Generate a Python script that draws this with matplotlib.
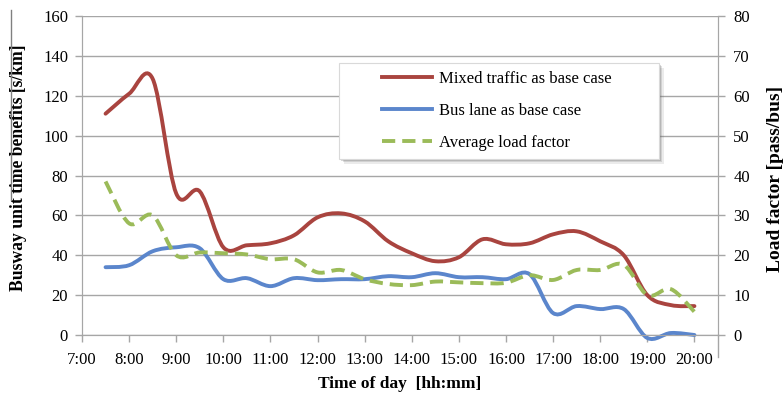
import matplotlib
matplotlib.use("Agg")
import matplotlib.pyplot as plt
from matplotlib.path import Path
from matplotlib.patches import PathPatch, Rectangle
from matplotlib.lines import Line2D

plt.rcParams['font.family'] = ['Liberation Serif', 'DejaVu Serif']

# Dane (co pół godziny)
times = ["7:30", "8:00", "8:30", "9:00", "9:30", "10:00", "10:30", "11:00",
         "11:30", "12:00", "12:30", "13:00", "13:30", "14:00", "14:30", "15:00",
         "15:30", "16:00", "16:30", "17:00", "17:30", "18:00", "18:30", "19:00",
         "19:30", "20:00"]
mixed_traffic = [111, 121, 128.5, 71, 72, 44, 45, 46, 50, 59, 61, 57, 47, 41,
                 37, 39, 48, 45.5, 46, 50.5, 52, 47, 40, 20, 15, 14.5]
bus_lane = [34, 35, 42, 44, 43.5, 28, 28.5, 24.5, 28.5, 27.5, 28, 28, 29.5, 29,
            31, 29, 29, 28, 30.5, 11, 14.5, 13, 13, -1.5, 1, 0]
load_factor = [38.5, 28, 30, 20, 20.7, 20.5, 20.2, 19, 19, 15.7, 16.3, 14,
               12.8, 12.5, 13.4, 13.2, 13, 13.1, 15, 13.8, 16.3, 16.3, 17.6,
               10, 11.5, 5.8]
hour_labels = ["7:00", "8:00", "9:00", "10:00", "11:00", "12:00", "13:00",
               "14:00", "15:00", "16:00", "17:00", "18:00", "19:00", "20:00"]

x = [int(t.split(":")[0]) + int(t.split(":")[1]) / 60 for t in times]
hour_ticks = [int(t.split(":")[0]) for t in hour_labels]


def smooth_path(xs, ys, k=1 / 6):
    # wygładzona linia jak w Excelu (Catmull-Rom -> Bezier)
    verts = [(xs[0], ys[0])]
    codes = [Path.MOVETO]
    n = len(xs)
    for i in range(n - 1):
        p0 = (xs[max(i - 1, 0)], ys[max(i - 1, 0)])
        p1 = (xs[i], ys[i])
        p2 = (xs[i + 1], ys[i + 1])
        p3 = (xs[min(i + 2, n - 1)], ys[min(i + 2, n - 1)])
        c1 = (p1[0] + (p2[0] - p0[0]) * k, p1[1] + (p2[1] - p0[1]) * k)
        c2 = (p2[0] - (p3[0] - p1[0]) * k, p2[1] - (p3[1] - p1[1]) * k)
        verts += [c1, c2, p2]
        codes += [Path.CURVE4] * 3
    return Path(verts, codes)


grid_color = '#a6a6a6'
red = '#a9443f'
blue = '#5b86cc'
green = '#9bbb59'
lw = 2.8
dash = (0, (3.4, 1.8))

fig = plt.figure(figsize=(7.84, 3.97), dpi=100)
ax = fig.add_axes([82 / 784, 1 - 335 / 397, 636 / 784, 319 / 397])
ax2 = ax.twinx()

ax.add_patch(PathPatch(smooth_path(x, mixed_traffic), fill=False,
                       edgecolor=red, lw=lw, capstyle='round', zorder=3,
                       clip_on=False))
ax.add_patch(PathPatch(smooth_path(x, bus_lane), fill=False,
                       edgecolor=blue, lw=lw, capstyle='round', zorder=3,
                       clip_on=False))
ax2.add_patch(PathPatch(smooth_path(x, load_factor), fill=False,
                        edgecolor=green, lw=lw, linestyle=dash, zorder=3,
                        clip_on=False))

ax.set_xlim(7, 20.5)
ax.set_ylim(0, 160)
ax2.set_ylim(0, 80)
ax.set_yticks(range(0, 161, 20))
ax2.set_yticks(range(0, 81, 10))
ax.set_xticks(hour_ticks)
ax.set_xticklabels(hour_labels)

ax.grid(axis='y', color=grid_color, lw=1)
ax.set_axisbelow(True)
for a in (ax, ax2):
    for s in a.spines.values():
        s.set_color(grid_color)
    a.spines['top'].set_visible(False)
    a.tick_params(colors=grid_color, labelcolor='black', labelsize=12,
                  length=5, width=1)
ax.tick_params(axis='x', pad=7.5)
ax.tick_params(axis='y', pad=5)
ax2.tick_params(axis='y', pad=6)

ax.set_xlabel("Time of day  [hh:mm]", fontsize=12.5, fontweight='bold')
ax.xaxis.set_label_coords(0.5, -0.128)
ax.xaxis.label.set_va('top')
ax.set_ylabel("Busway unit time benefits [s/km]", fontsize=12.7,
              fontweight='bold')
ax.yaxis.set_label_coords(-0.086, 0.523)
ax2.set_ylabel("Load factor [pass/bus]", fontsize=14, fontweight='bold')
ax2.yaxis.set_label_coords(1.077, 0.489)

# ramka legendy z cieniem
box = (0.404, 0.552, 0.503, 0.301)
for off, alpha in ((0.010, 0.12), (0.007, 0.18), (0.004, 0.25)):
    ax.add_patch(Rectangle((box[0] + off * 0.8, box[1] - off * 1.6), box[2],
                           box[3], transform=ax.transAxes, facecolor='#606060',
                           edgecolor='none', alpha=alpha, zorder=4))
ax.add_patch(Rectangle(box[:2], box[2], box[3], transform=ax.transAxes,
                       facecolor='white', edgecolor='#d9d9d9', lw=0.8,
                       zorder=4.5))

handles = [Line2D([], [], color=red, lw=lw),
           Line2D([], [], color=blue, lw=lw),
           Line2D([], [], color=green, lw=lw, linestyle=dash)]
labels = ["Mixed traffic as base case", "Bus lane as base case",
          "Average load factor"]
leg = ax.legend(handles, labels, loc='center',
                bbox_to_anchor=(0.6525, 0.702), fontsize=12, frameon=False,
                handlelength=3.0, labelspacing=0.95, borderpad=0,
                handletextpad=0.45)
leg.set_zorder(5)

# prawa oś wydłużona w dół jak w oryginale
fig.add_artist(Line2D([718 / 784, 718 / 784], [1 - 357 / 397, 1 - 335 / 397],
                      color=grid_color, lw=1))
# pionowa kreska przy lewym brzegu
fig.add_artist(Line2D([11 / 784, 11 / 784], [1 - 10 / 397, 1 - 200 / 397],
                      color='#808080', lw=1))

fig.savefig("out.png", dpi=100)
